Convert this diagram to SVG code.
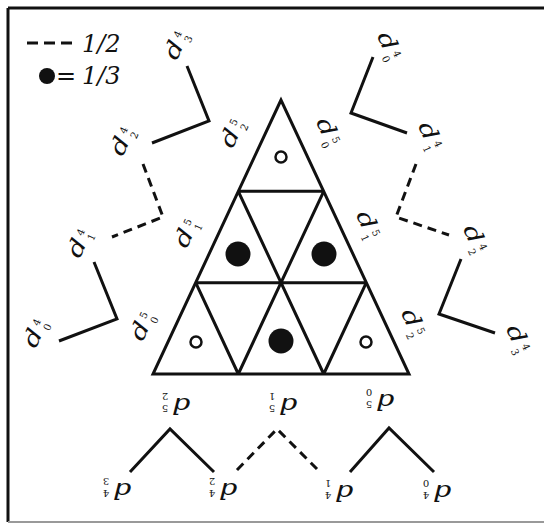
<svg xmlns="http://www.w3.org/2000/svg" width="544" height="524" viewBox="0 0 544 524">
<style>
.ln{fill:none;stroke:#111;stroke-width:3;stroke-linejoin:miter}
.ds{stroke-dasharray:9 6}
.tri{fill:#fff;stroke:#111;stroke-width:3;stroke-linejoin:miter}
.d{font-family:"DejaVu Serif","Liberation Serif",serif;font-style:italic;font-size:22px;fill:#111;text-anchor:middle}
.s{font-family:"DejaVu Serif","Liberation Serif",serif;font-size:10px;fill:#111;text-anchor:middle}
.lg{font-family:"DejaVu Serif","Liberation Serif",serif;font-style:italic;font-size:24px;fill:#111}
</style>
<defs>
<g id="dd"><text class="d" y="7" transform="scale(1.3,1)">d</text></g>
</defs>
<rect width="544" height="524" fill="#fff"/>
<g id="frame">
<path d="M8,8 H544 M8,8 V522" class="ln" stroke-width="2"/>
<path d="M8,522 H544" fill="none" stroke="#999" stroke-width="2"/>
</g>
<g id="legend">
<line x1="27" y1="43" x2="72" y2="43" class="ln" style="stroke-dasharray:11 6"/>
<text x="82" y="52" class="lg">1/2</text>
<circle cx="47" cy="76" r="8" fill="#111"/>
<text x="56" y="84" class="lg" font-style="normal">=</text>
<text x="82" y="84" class="lg">1/3</text>
</g>
<g id="triangle">
<polygon points="281,100 153,374 409,374" class="tri"/>
<path d="M238.3,191.3 H323.7 M195.7,282.7 H366.3 M238.3,191.3 L323.7,374 M195.7,282.7 L238.3,374 M323.7,191.3 L238.3,374 M366.3,282.7 L323.7,374" class="ln"/>
<circle cx="281" cy="157" r="5.5" fill="none" stroke="#111" stroke-width="2.5"/>
<circle cx="196" cy="342" r="5.5" fill="none" stroke="#111" stroke-width="2.5"/>
<circle cx="366" cy="342" r="5.5" fill="none" stroke="#111" stroke-width="2.5"/>
<circle cx="238" cy="254" r="12.5" fill="#111"/>
<circle cx="324" cy="254" r="12.5" fill="#111"/>
<circle cx="281" cy="341" r="12.5" fill="#111"/>
</g>
<g id="connectors">
<polyline points="187,66 209,121 152,143" class="ln"/>
<polyline points="143,164 163,217 112,237" class="ln ds"/>
<polyline points="94,262 117,319 59,341" class="ln"/>
<polyline points="373,57 351,113 407,133" class="ln"/>
<polyline points="416,164 396,217 449,235" class="ln ds"/>
<polyline points="461,259 439,314 495,333" class="ln"/>
<polyline points="130,472 170,429 214,472" class="ln"/>
<polyline points="237,470 277,429 317,469" class="ln ds"/>
<polyline points="350,472 389,428 434,472" class="ln"/>
</g>
<g id="labels-left">
<g id="L-d34" transform="translate(174,50) rotate(-65)"><use href="#dd"/><text class="s" x="16" y="12">3</text><text class="s" x="16" y="0">4</text></g>
<g id="L-d24" transform="translate(120,146) rotate(-65)"><use href="#dd"/><text class="s" x="16" y="12">2</text><text class="s" x="16" y="0">4</text></g>
<g id="L-d14" transform="translate(77,248) rotate(-65)"><use href="#dd"/><text class="s" x="16" y="12">1</text><text class="s" x="16" y="0">4</text></g>
<g id="L-d04" transform="translate(33,338) rotate(-65)"><use href="#dd"/><text class="s" x="16" y="12">0</text><text class="s" x="16" y="0">4</text></g>
<g id="L-d25" transform="translate(230,138) rotate(-65)"><use href="#dd"/><text class="s" x="16" y="12">2</text><text class="s" x="16" y="0">5</text></g>
<g id="L-d15" transform="translate(184,238) rotate(-65)"><use href="#dd"/><text class="s" x="16" y="12">1</text><text class="s" x="16" y="0">5</text></g>
<g id="L-d05" transform="translate(140,331) rotate(-65)"><use href="#dd"/><text class="s" x="16" y="12">0</text><text class="s" x="16" y="0">5</text></g>
</g>
<g id="labels-right">
<g id="R-d04" transform="translate(387,41) rotate(65)"><use href="#dd"/><text class="s" x="16" y="12">0</text><text class="s" x="16" y="0">4</text></g>
<g id="R-d14" transform="translate(428,131) rotate(65)"><use href="#dd"/><text class="s" x="16" y="12">1</text><text class="s" x="16" y="0">4</text></g>
<g id="R-d24" transform="translate(473,234) rotate(65)"><use href="#dd"/><text class="s" x="16" y="12">2</text><text class="s" x="16" y="0">4</text></g>
<g id="R-d34" transform="translate(516,334) rotate(65)"><use href="#dd"/><text class="s" x="16" y="12">3</text><text class="s" x="16" y="0">4</text></g>
<g id="R-d05" transform="translate(326,127) rotate(65)"><use href="#dd"/><text class="s" x="16" y="12">0</text><text class="s" x="16" y="0">5</text></g>
<g id="R-d15" transform="translate(366,220) rotate(65)"><use href="#dd"/><text class="s" x="16" y="12">1</text><text class="s" x="16" y="0">5</text></g>
<g id="R-d25" transform="translate(411,318) rotate(65)"><use href="#dd"/><text class="s" x="16" y="12">2</text><text class="s" x="16" y="0">5</text></g>
</g>
<g id="labels-bottom">
<g id="B-d25" transform="translate(181,405) rotate(180)"><use href="#dd"/><text class="s" x="16" y="12">2</text><text class="s" x="16" y="0">5</text></g>
<g id="B-d15" transform="translate(288,405) rotate(180)"><use href="#dd"/><text class="s" x="16" y="12">1</text><text class="s" x="16" y="0">5</text></g>
<g id="B-d05" transform="translate(385,401) rotate(180)"><use href="#dd"/><text class="s" x="16" y="12">0</text><text class="s" x="16" y="0">5</text></g>
<g id="B-d34" transform="translate(122,490) rotate(180)"><use href="#dd"/><text class="s" x="16" y="12">3</text><text class="s" x="16" y="0">4</text></g>
<g id="B-d24" transform="translate(228,490) rotate(180)"><use href="#dd"/><text class="s" x="16" y="12">2</text><text class="s" x="16" y="0">4</text></g>
<g id="B-d14" transform="translate(344,492) rotate(180)"><use href="#dd"/><text class="s" x="16" y="12">1</text><text class="s" x="16" y="0">4</text></g>
<g id="B-d04" transform="translate(442,492) rotate(180)"><use href="#dd"/><text class="s" x="16" y="12">0</text><text class="s" x="16" y="0">4</text></g>
</g>
</svg>
